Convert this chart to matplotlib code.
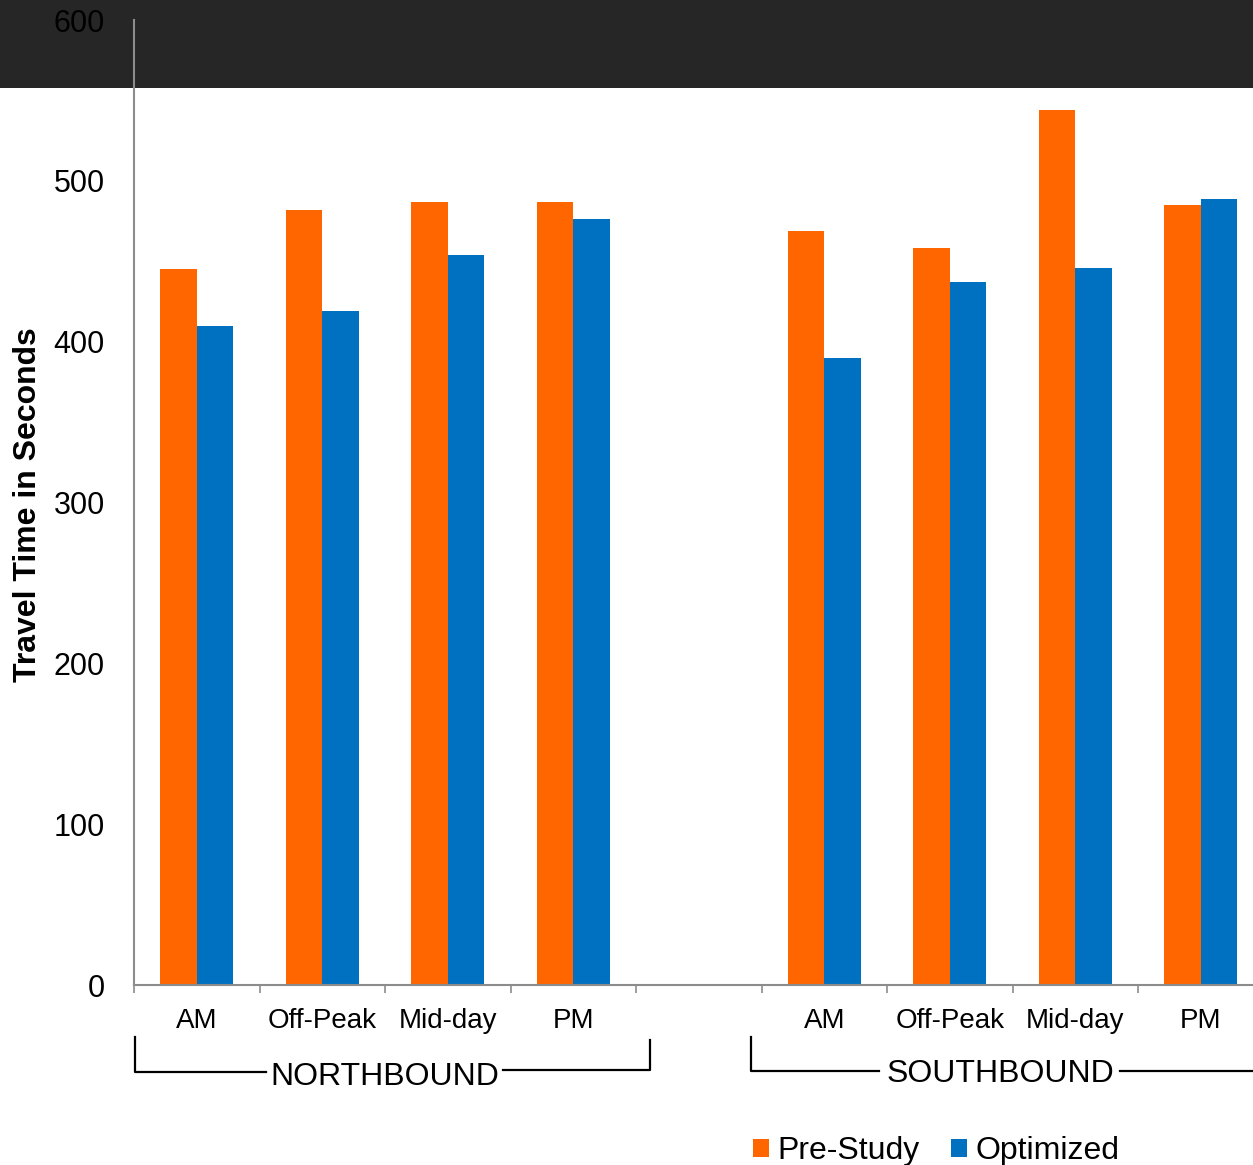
import numpy as np
import matplotlib
matplotlib.use('Agg')
from matplotlib import pyplot as plt
from matplotlib.patches import Rectangle
from matplotlib.transforms import blended_transform_factory

plt.rcParams['font.family'] = ['Liberation Sans', 'DejaVu Sans']

periods = ['AM', 'Off-Peak', 'Mid-day', 'PM']
groups = ['NORTHBOUND', 'SOUTHBOUND']
nb_pre = [445, 482, 487, 487]
nb_opt = [410, 419, 454, 476]
sb_pre = [469, 458, 544, 485]
sb_opt = [390, 437, 446, 489]
yticks = [0, 100, 200, 300, 400, 500, 600]

orange = '#FF6600'
blue = '#0070C0'
gray = '#8C8C8C'

fig = plt.figure(figsize=(12.53, 11.65), dpi=100)
# dark strip along the top of the screenshot, behind the axes
fig.patches.append(Rectangle((0, 1 - 88 / 1165), 1, 88 / 1165, transform=fig.transFigure,
                             facecolor='#262626', edgecolor='none', zorder=-10))

ax = fig.add_axes([134 / 1253, 179.7 / 1165, 9 * 125.5 / 1253, 965.3 / 1165])
ax.set_facecolor('none')
ax.set_zorder(1)

# slot positions: 4 northbound, one empty slot, 4 southbound
nb_x = np.arange(len(periods))
sb_x = np.arange(len(periods)) + len(periods) + 1
w = 0.29
ax.bar(nb_x - w / 2, nb_pre, w, color=orange, label='Pre-Study')
ax.bar(nb_x + w / 2, nb_opt, w, color=blue, label='Optimized')
ax.bar(sb_x - w / 2, sb_pre, w, color=orange)
ax.bar(sb_x + w / 2, sb_opt, w, color=blue)

ax.set_xlim(-0.5, 8.5)
ax.set_ylim(0, 600)
ax.set_yticks(yticks)
ax.set_yticklabels([str(v) for v in yticks])
ax.tick_params(axis='y', length=0, pad=21, labelsize=22)

ax.set_xticks(np.arange(-0.5, 9, 1))
ax.set_xticklabels([])
ax.tick_params(axis='x', which='major', length=5.8, width=1.2, color=gray, direction='out')
ax.set_xticks(np.concatenate([nb_x, sb_x]), minor=True)
ax.set_xticklabels(periods + periods, minor=True)
ax.tick_params(axis='x', which='minor', length=0, pad=16, labelsize=20)

for s in ['top', 'right']:
    ax.spines[s].set_visible(False)
for s in ['left', 'bottom']:
    ax.spines[s].set_color(gray)
    ax.spines[s].set_linewidth(1.5)

# group brackets under the category labels
tr = blended_transform_factory(ax.transData, ax.transAxes)
lk = dict(color='black', lw=1.6, transform=tr, clip_on=False)
ax.plot([-0.49, -0.49, 0.55], [-0.0536, -0.0898, -0.0898], **lk)
ax.plot([2.44, 3.61, 3.61], [-0.0877, -0.0877, -0.0567], **lk)
ax.text(1.5, -0.095, groups[0], transform=tr, ha='center', va='center', fontsize=23)
ax.plot([4.42, 4.42, 5.44], [-0.0536, -0.0888, -0.0888], **lk)
ax.plot([7.36, 9.0], [-0.0888, -0.0888], **lk)
ax.text(6.4, -0.0915, groups[1], transform=tr, ha='center', va='center', fontsize=23)

fig.text(28 / 1253, 0.567, 'Travel Time in Seconds', rotation=90, ha='center', va='center',
         fontsize=23, fontweight='bold')

fig.legend(loc='center', bbox_to_anchor=(936 / 1253, 14 / 1165), ncol=2, frameon=False,
           fontsize=23, handlelength=0.5, handleheight=0.5, handletextpad=0.25,
           columnspacing=1.0, borderpad=0)

fig.savefig('out.png', dpi=100)
